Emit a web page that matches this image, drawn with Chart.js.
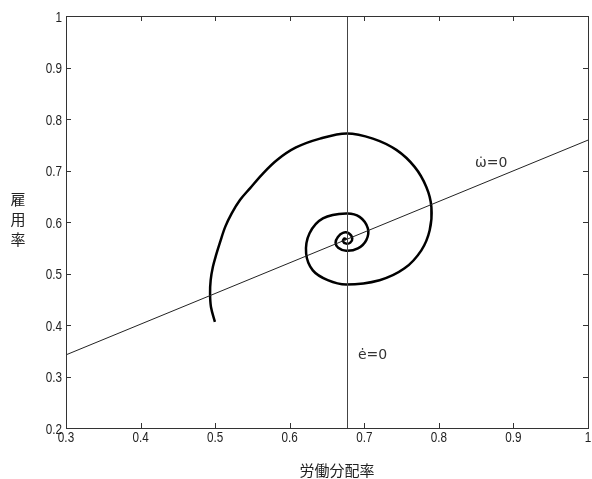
<!DOCTYPE html>
<html>
<head>
<meta charset="utf-8">
<script src="https://cdn.jsdelivr.net/npm/chart.js@4/dist/chart.umd.min.js"></script>
<style>
  html, body { margin: 0; padding: 0; background: #fff; }
  #wrap { width: 592px; height: 479px; }
</style>
</head>
<body>
<div id="wrap"><canvas id="phase" width="592" height="479"></canvas></div>
<script>
// trajectory in the (labour share, employment rate) plane
const spiralX = [0.4997, 0.4944, 0.4932, 0.4940, 0.4970, 0.5015, 0.5062, 0.5135, 0.5222, 0.5333,
                 0.5467, 0.5628, 0.5830, 0.6084, 0.6406, 0.6764, 0.7115, 0.743, 0.7675,
                 0.7832, 0.790, 0.7877, 0.7765, 0.754, 0.7205, 0.6758, 0.651, 0.631, 0.622,
                 0.6266, 0.6445, 0.6758, 0.6937, 0.7048, 0.7027, 0.6914, 0.6758, 0.665, 0.6615,
                 0.6646, 0.6713, 0.6794, 0.6839, 0.6812, 0.6758, 0.6713, 0.6735, 0.676];
const spiralY = [0.406, 0.435, 0.461, 0.487, 0.513, 0.537, 0.559, 0.5905, 0.6169, 0.6427,
                 0.6654, 0.6922, 0.7204, 0.7447, 0.7619, 0.772, 0.762, 0.740, 0.707,
                 0.668, 0.629, 0.584, 0.545, 0.510, 0.487, 0.4786, 0.487, 0.506, 0.539,
                 0.578, 0.607, 0.6166, 0.610, 0.5875, 0.5647, 0.5486, 0.544, 0.550, 0.560,
                 0.571, 0.579, 0.578, 0.568, 0.560, 0.558, 0.563, 0.568, 0.566];

// nullclines
const wNullX = [0.3, 1.0];
const wNullY = [0.342, 0.759];
const eNullX = [0.6775, 0.6775];
const eNullY = [0.2, 1.0];

const xTicks = [0.3, 0.4, 0.5, 0.6, 0.7, 0.8, 0.9, 1];
const yTicks = [0.2, 0.3, 0.4, 0.5, 0.6, 0.7, 0.8, 0.9, 1];

const xTitle = '労働分配率';
const yTitle = '雇用率';
const wLabel = 'ω\u0307=0';
const eLabel = 'ė=0';

const toPoints = (xs, ys) => xs.map((x, i) => ({ x: x, y: ys[i] }));

// condensed tick text: regular face squeezed horizontally
function narrowText(ctx, text, x, y, align) {
    ctx.save();
    ctx.translate(x, y);
    ctx.scale(0.78, 1);
    ctx.textAlign = align;
    ctx.fillText(text, 0, 0);
    ctx.restore();
}

// frame with inward tick marks on all four sides, tick labels and text labels
const framePlugin = {
    id: 'frame',
    afterDraw(chart) {
        const ctx = chart.ctx;
        const a = chart.chartArea;
        const xs = chart.scales.x;
        const ys = chart.scales.y;
        ctx.save();
        ctx.strokeStyle = '#333';
        ctx.lineWidth = 1;
        ctx.strokeRect(a.left + 0.5, a.top + 0.5, a.right - a.left, a.bottom - a.top);
        ctx.beginPath();
        xTicks.forEach(v => {
            const px = Math.round(xs.getPixelForValue(v)) + 0.5;
            ctx.moveTo(px, a.bottom);
            ctx.lineTo(px, a.bottom - 5);
            ctx.moveTo(px, a.top);
            ctx.lineTo(px, a.top + 5);
        });
        yTicks.forEach(v => {
            const py = Math.round(ys.getPixelForValue(v)) + 0.5;
            ctx.moveTo(a.left, py);
            ctx.lineTo(a.left + 5, py);
            ctx.moveTo(a.right, py);
            ctx.lineTo(a.right - 5, py);
        });
        ctx.stroke();

        ctx.fillStyle = '#222';
        ctx.font = '15px "Liberation Sans"';
        ctx.textBaseline = 'alphabetic';
        xTicks.forEach(v => {
            narrowText(ctx, String(v), xs.getPixelForValue(v), a.bottom + 14, 'center');
        });
        yTicks.forEach(v => {
            narrowText(ctx, String(v), a.left - 4, ys.getPixelForValue(v) + 5.5, 'right');
        });

        ctx.fillStyle = '#333';
        ctx.font = '14px "DejaVu Sans"';
        ctx.textAlign = 'left';
        ctx.fillText(wLabel, 475, 167);
        ctx.fillText(eLabel, 358, 359);

        ctx.fillStyle = '#222';
        ctx.font = '15px "Noto Sans CJK JP"';
        ctx.textAlign = 'center';
        ctx.textBaseline = 'middle';
        ctx.fillText(xTitle, 337, 470);
        Array.from(yTitle).forEach((ch, i) => {
            ctx.fillText(ch, 18, 199 + i * 20);
        });
        ctx.restore();
    }
};

new Chart(document.getElementById('phase'), {
    type: 'scatter',
    data: {
        datasets: [
            {
                data: toPoints(eNullX, eNullY),
                showLine: true,
                borderColor: '#444',
                borderWidth: 1,
                pointRadius: 0
            },
            {
                data: toPoints(wNullX, wNullY),
                showLine: true,
                borderColor: '#222',
                borderWidth: 1,
                pointRadius: 0
            },
            {
                data: toPoints(spiralX, spiralY),
                showLine: true,
                borderColor: '#000',
                borderWidth: 2.5,
                tension: 0.35,
                pointRadius: 0
            }
        ]
    },
    options: {
        responsive: false,
        animation: false,
        layout: { padding: { top: 16, right: 4, left: 0, bottom: 0 } },
        plugins: {
            legend: { display: false },
            tooltip: { enabled: false }
        },
        scales: {
            x: {
                type: 'linear',
                min: 0.3,
                max: 1,
                afterBuildTicks: s => { s.ticks = xTicks.map(v => ({ value: v })); },
                afterFit: s => { s.height = 51; },
                grid: { display: false, drawTicks: false },
                border: { display: false },
                ticks: { display: false }
            },
            y: {
                type: 'linear',
                min: 0.2,
                max: 1,
                afterBuildTicks: s => { s.ticks = yTicks.map(v => ({ value: v })); },
                afterFit: s => { s.width = 66; },
                grid: { display: false, drawTicks: false },
                border: { display: false },
                ticks: { display: false }
            }
        }
    },
    plugins: [framePlugin]
});
</script>
</body>
</html>
